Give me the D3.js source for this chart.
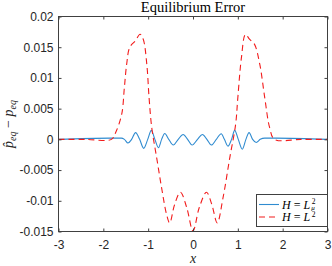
<!DOCTYPE html>
<html><head><meta charset="utf-8">
<script src="https://cdn.jsdelivr.net/npm/d3@7/dist/d3.min.js"></script>
<style>body{margin:0;background:#fff}svg{display:block}</style></head>
<body><svg id="c" width="332" height="266"></svg>
<script>
// ---- data ----
const xTicks = [-3, -2, -1, 0, 1, 2, 3];
const xTickLabels = ["-3", "-2", "-1", "0", "1", "2", "3"];
const yTicks = [-0.015, -0.01, -0.005, 0, 0.005, 0.01, 0.015, 0.02];
const yTickLabels = ["-0.015", "-0.01", "-0.005", "0", "0.005", "0.01", "0.015", "0.02"];
const titleText = "Equilibrium Error";
const seriesNames = ["H = L²μ", "H = L²"];

// H = L^2_mu (blue, solid)
const blueX = [-3, -1.85, -1.6, -1.53, -1.45, -1.37, -1.28, -1.19, -1.10, -1.01, -0.93, -0.85, -0.77, -0.70, -0.63, -0.54, -0.44, -0.33, -0.22, -0.12, -0.02, 0.10, 0.21, 0.31, 0.41, 0.52, 0.63, 0.70, 0.78, 0.86, 0.93, 1.01, 1.10, 1.18, 1.25, 1.33, 1.41, 1.50, 1.6, 1.85, 3];
const blueY = [0, 0.0002, 0.0002, 0, -0.0006, 0, 0.0011, 0, -0.00146, 0, 0.00146, 0, -0.00135, 0, 0.00095, 0, -0.00093, 0, 0.0008, 0, -0.00093, 0, 0.0008, 0, -0.00093, 0, 0.00092, 0, -0.0011, 0, 0.00146, 0, -0.0016, 0, 0.0011, 0, -0.0005, 0, 0.0002, 0.0002, 0];

// H = L^2 (red, dashed)
const redX = [-3, -2.4, -1.82, -1.72, -1.59, -1.53, -1.48, -1.41, -1.29, -1.18, -1.11, -1.03, -0.98, -0.92, -0.81, -0.70, -0.59, -0.52, -0.41, -0.28, -0.14, 0, 0.14, 0.30, 0.42, 0.54, 0.67, 0.82, 0.95, 1.00, 1.08, 1.17, 1.26, 1.37, 1.49, 1.60, 1.71, 1.82, 2.4, 3];
const redY = [0, 0, 0, 0.0012, 0.0041, 0.0085, 0.0122, 0.0150, 0.0160, 0.0171, 0.0163, 0.0122, 0.0068, 0.0019, -0.0030, -0.0079, -0.0122, -0.0136, -0.0106, -0.0086, -0.0111, -0.0149, -0.0111, -0.0086, -0.0106, -0.0136, -0.0095, -0.0030, 0.0024, 0.0068, 0.0133, 0.0171, 0.0163, 0.0155, 0.0122, 0.0068, 0.0019, 0, 0, 0];

// ---- layout ----
const L = 58.5, R = 327.5, T = 16.5, B = 231.5;
const svg = d3.select("#c");
const x = d3.scaleLinear().domain([-3, 3]).range([L, R]);
const y = d3.scaleLinear().domain([-0.015, 0.02]).range([B, T]);
const axisColor = "#404040";
const font = "'Liberation Sans', Arial, sans-serif";

svg.append("rect").attr("width", 332).attr("height", 266).attr("fill", "#fff");

// series
const lineBlue = d3.line().x(d => x(d[0])).y(d => y(d[1])).curve(d3.curveMonotoneX);
const lineRed = d3.line().x(d => x(d[0])).y(d => y(d[1])).curve(d3.curveCatmullRom.alpha(0.5));
const plot = svg.append("g");
plot.append("path").datum(blueX.map((v, i) => [v, blueY[i]]))
  .attr("d", lineBlue).attr("fill", "none").attr("stroke", "#2f8bd0").attr("stroke-width", 1.1);
plot.append("path").datum(redX.map((v, i) => [v, redY[i]]))
  .attr("d", lineRed).attr("fill", "none").attr("stroke", "#f21c1c").attr("stroke-width", 1.1)
  .attr("stroke-dasharray", "6,4");

// axes
function styleAxis(g) {
  g.select(".domain").remove();
  g.selectAll(".tick line").attr("stroke", axisColor);
  g.selectAll(".tick text").attr("fill", "#262626").style("font-family", font).style("font-size", "12px");
}
svg.append("g").attr("transform", `translate(0,${B})`)
  .call(d3.axisBottom(x).tickValues(xTicks).tickFormat((d, i) => xTickLabels[i]).tickSizeInner(-3).tickSizeOuter(0).tickPadding(9))
  .call(styleAxis);
svg.append("g").attr("transform", `translate(0,${T})`)
  .call(d3.axisTop(x).tickValues(xTicks).tickFormat("").tickSizeInner(-3).tickSizeOuter(0))
  .call(styleAxis);
svg.append("g").attr("transform", `translate(${L},0)`)
  .call(d3.axisLeft(y).tickValues(yTicks).tickFormat((d, i) => yTickLabels[i]).tickSizeInner(-3).tickSizeOuter(0).tickPadding(5))
  .call(styleAxis);
svg.append("g").attr("transform", `translate(${R},0)`)
  .call(d3.axisRight(y).tickValues(yTicks).tickFormat("").tickSizeInner(-3).tickSizeOuter(0))
  .call(styleAxis);
svg.append("rect").attr("x", L).attr("y", T).attr("width", R - L).attr("height", B - T)
  .attr("fill", "none").attr("stroke", axisColor).attr("stroke-width", 1);

// title
const serif = "'Liberation Serif', 'DejaVu Serif', serif";
svg.append("text").attr("x", (L + R) / 2).attr("y", 12).attr("text-anchor", "middle")
  .style("font-family", serif).style("font-size", "14.5px").attr("fill", "#000").text(titleText);

// x label
svg.append("text").attr("x", (L + R) / 2).attr("y", 263).attr("text-anchor", "middle")
  .style("font-family", serif).style("font-size", "14px").style("font-style", "italic").attr("fill", "#262626").text("x");

// y label
const yl = svg.append("text").attr("transform", `translate(13,${(T + B) / 2}) rotate(-90)`)
  .attr("text-anchor", "middle").style("font-family", serif).style("font-size", "14px").attr("fill", "#262626");
yl.append("tspan").style("font-style", "italic").text("p\u0302");
yl.append("tspan").style("font-style", "italic").style("font-size", "10px").attr("dy", 3).text("eq");
yl.append("tspan").attr("dy", -3).text(" \u2212 ");
yl.append("tspan").style("font-style", "italic").text("p");
yl.append("tspan").style("font-style", "italic").style("font-size", "10px").attr("dy", 3).text("eq");

// legend
const lg = svg.append("g");
lg.append("rect").attr("x", 256.5).attr("y", 194.5).attr("width", 71).attr("height", 32)
  .attr("fill", "#fff").attr("stroke", axisColor).attr("stroke-width", 1);
const entries = [
  {color: "#2f8bd0", dash: null, yy: 204.5},
  {color: "#f21c1c", dash: "6,4", yy: 217}
];
entries.forEach((e, i) => {
  lg.append("line").attr("x1", 259).attr("x2", 279).attr("y1", e.yy).attr("y2", e.yy)
    .attr("stroke", e.color).attr("stroke-width", 1.1).attr("stroke-dasharray", e.dash);
  const base = e.yy + 4;
  const t = lg.append("text").attr("x", 282).attr("y", base)
    .style("font-family", serif).style("font-size", "12px").attr("fill", "#000");
  t.append("tspan").style("font-style", "italic").text("H");
  t.append("tspan").text(" = ");
  t.append("tspan").style("font-style", "italic").text("L");
  const lx = t.node().getComputedTextLength();
  const s = lg.append("text").attr("x", 282 + lx + 1.5).attr("y", base - (i === 0 ? 5 : 3.8))
    .style("font-family", serif).style("font-size", "7.5px").attr("fill", "#000");
  s.append("tspan").text("2");
  if (i === 0) s.append("tspan").attr("x", 282 + lx + 1).attr("dy", 6.2)
    .style("font-size", "7px").style("font-style", "italic").text("\u03bc");
});
</script></body></html>
